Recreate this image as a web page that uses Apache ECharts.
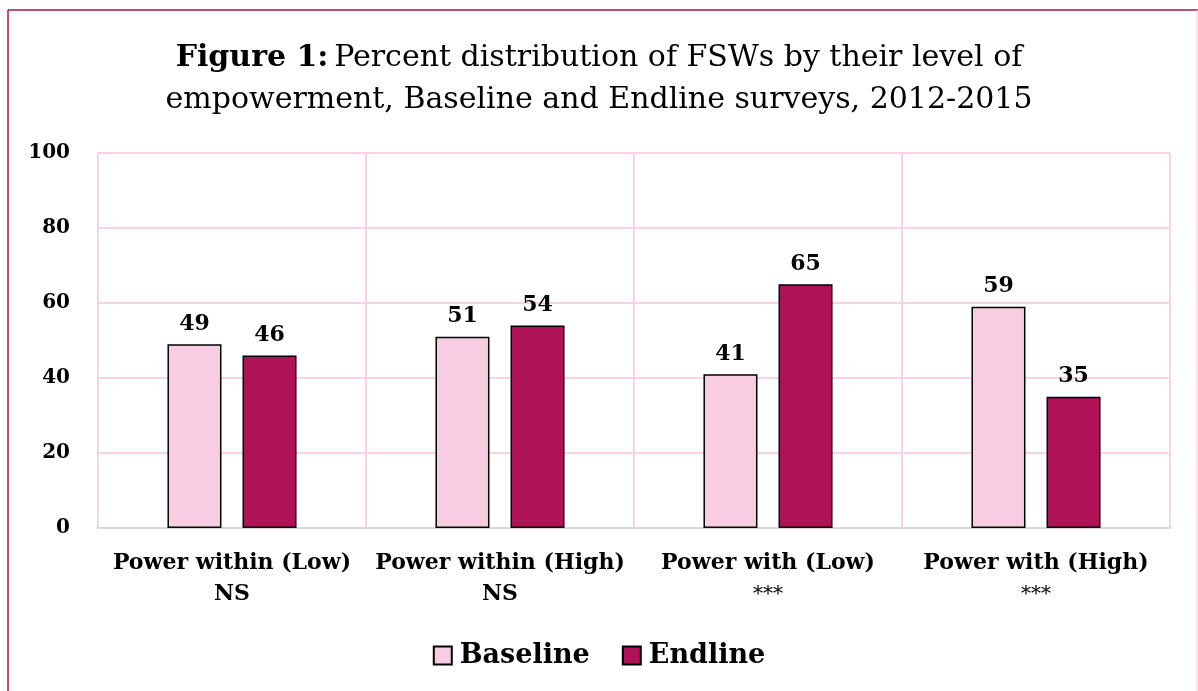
<!DOCTYPE html>
<html>
<head>
<meta charset="utf-8">
<script src="https://cdn.jsdelivr.net/npm/echarts@6/dist/echarts.min.js"></script>
<style>
  html, body { margin: 0; padding: 0; background: #fff; }
  #main { width: 1198px; height: 691px; }
</style>
</head>
<body>
<div id="main"></div>
<script>
  // datos
  var categorias = ['Power within (Low)', 'Power within (High)', 'Power with (Low)', 'Power with (High)'];
  var significancia = ['NS', 'NS', '***', '***'];
  var baseline = [49, 51, 41, 59];
  var endline = [46, 54, 65, 35];
  var etiquetasY = [0, 20, 40, 60, 80, 100];

  var fuente = '"DejaVu Serif", "Liberation Serif", serif';
  var myChart = echarts.init(document.getElementById('main'));

  var etiquetasX = categorias.map(function (c, i) {
    var estilo = significancia[i] === 'NS' ? 'sig' : 'star';
    return '{cat|' + c + '}\n{' + estilo + '|' + significancia[i] + '}';
  });

  option = {
    backgroundColor: '#fff',
    textStyle: { fontFamily: fuente },
    title: {
      left: 'center',
      top: 32,
      text: '{b|Figure 1:} {n|Percent distribution of FSWs by their level of}\n{n|empowerment, Baseline and Endline surveys, 2012-2015}',
      textStyle: {
        fontFamily: fuente,
        fontWeight: 'normal',
        rich: {
          b: { fontFamily: fuente, fontSize: 30, fontWeight: 'bold', color: '#000', lineHeight: 42 },
          n: { fontFamily: fuente, fontSize: 30, fontWeight: 'normal', color: '#000', lineHeight: 42 }
        }
      }
    },
    graphic: [
      { type: 'line', shape: { x1: 8, y1: 10, x2: 8, y2: 691 }, style: { stroke: '#A8124F', lineWidth: 1.5 } },
      { type: 'line', shape: { x1: 8, y1: 10, x2: 1198, y2: 10 }, style: { stroke: '#A8124F', lineWidth: 1.5 } },
      { type: 'line', shape: { x1: 1197, y1: 10, x2: 1197, y2: 691 }, style: { stroke: '#F3D2E0', lineWidth: 1 } }
    ],
    legend: {
      top: 637,
      left: 'center',
      icon: 'rect',
      itemWidth: 18,
      itemHeight: 18,
      itemGap: 32,
      textStyle: { fontFamily: fuente, fontSize: 27, fontWeight: 'bold', color: '#000', padding: [0, 0, 0, 3] },
      data: ['Baseline', 'Endline']
    },
    grid: { left: 98, right: 28, top: 153, bottom: 163 },
    xAxis: {
      type: 'category',
      data: etiquetasX,
      axisTick: { show: false },
      axisLine: { lineStyle: { color: '#D9D9D9', width: 2 } },
      splitLine: { show: true, lineStyle: { color: '#F9D3E4', width: 2 } },
      axisLabel: {
        margin: 20,
        interval: 0,
        rich: {
          cat: { fontFamily: fuente, fontSize: 22, fontWeight: 'bold', color: '#000', lineHeight: 31 },
          sig: { fontFamily: fuente, fontSize: 22, fontWeight: 'bold', color: '#000', lineHeight: 31 },
          star: { fontFamily: fuente, fontSize: 20, fontWeight: 'normal', color: '#000', lineHeight: 31 }
        }
      }
    },
    yAxis: {
      type: 'value',
      min: 0,
      max: 100,
      interval: 20,
      axisLine: { show: false },
      axisTick: { show: false },
      splitLine: { lineStyle: { color: '#F9D3E4', width: 2 } },
      axisLabel: {
        margin: 28,
        fontFamily: fuente,
        fontSize: 20,
        fontWeight: 'bold',
        color: '#000',
        formatter: function (v) { return etiquetasY.indexOf(v) >= 0 ? String(v) : ''; }
      }
    },
    series: [
      {
        name: 'Baseline',
        type: 'bar',
        barWidth: 54,
        barGap: '39%',
        data: baseline,
        itemStyle: { color: '#F9CDE1', borderColor: '#000', borderWidth: 1.5 },
        label: {
          show: true,
          position: 'top',
          distance: 9,
          fontFamily: fuente,
          fontSize: 22,
          fontWeight: 'bold',
          color: '#000'
        }
      },
      {
        name: 'Endline',
        type: 'bar',
        barWidth: 54,
        data: endline,
        itemStyle: { color: '#B01257', borderColor: '#000', borderWidth: 1.5 },
        label: {
          show: true,
          position: 'top',
          distance: 9,
          fontFamily: fuente,
          fontSize: 22,
          fontWeight: 'bold',
          color: '#000'
        }
      }
    ]
  };

  myChart.setOption(option);
</script>
</body>
</html>
